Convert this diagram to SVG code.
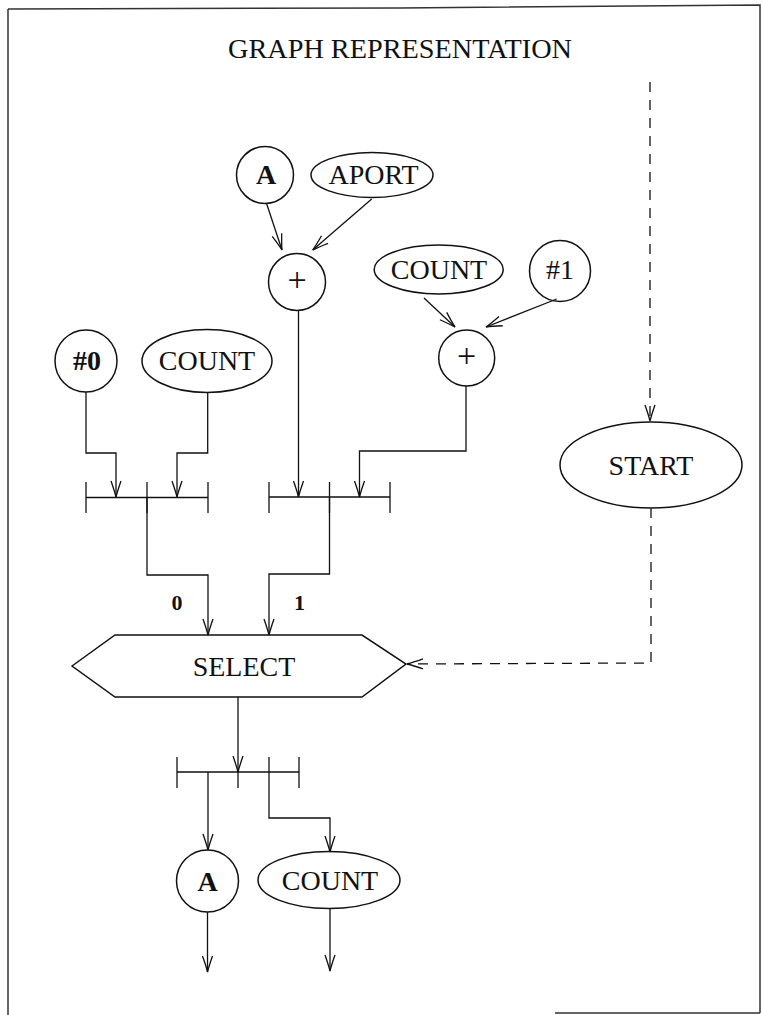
<svg xmlns="http://www.w3.org/2000/svg" width="762" height="1015" viewBox="0 0 762 1015">
<style>
.n{fill:none;stroke:#111;stroke-width:1.5}
.c{fill:none;stroke:#111;stroke-width:1.3}
.d{fill:none;stroke:#111;stroke-width:1.3;stroke-dasharray:10 8}
.b{fill:none;stroke:#111;stroke-width:1.3}
.t{font-family:"Liberation Serif","DejaVu Serif",serif;font-size:28px;fill:#111;text-anchor:middle}
.tb{font-weight:bold}
.p{font-family:"Liberation Serif","DejaVu Serif",serif;font-size:34px;fill:#111;text-anchor:middle}
.s{font-family:"Liberation Serif","DejaVu Serif",serif;font-size:22px;font-weight:bold;fill:#111;text-anchor:middle}
.fr{fill:none;stroke:#333;stroke-width:1.5}
</style>
<defs>
<marker id="ah" markerUnits="userSpaceOnUse" markerWidth="20" markerHeight="14" viewBox="-17 -7 18 14" refX="0" refY="0" orient="auto">
<path d="M-16,-5 Q-6,-1.5 0,0 Q-6,1.5 -16,5" fill="none" stroke="#111" stroke-width="1.3"/>
</marker>
</defs>
<rect width="762" height="1015" fill="#fff"/>
<g id="frame">
<path class="fr" d="M8,9 L400,8 L760,5 L760,1013 M8,9 L8,1015 M555,1013 L760,1013"/>
</g>
<text id="title" class="t" x="400" y="58" textLength="344" lengthAdjust="spacingAndGlyphs">GRAPH REPRESENTATION</text>
<g id="connectors">
<line class="c" x1="266.7" y1="204" x2="282" y2="250" marker-end="url(#ah)"/>
<line class="c" x1="371.7" y1="199" x2="312.7" y2="250" marker-end="url(#ah)"/>
<line class="c" x1="424" y1="298" x2="455" y2="327" marker-end="url(#ah)"/>
<line class="c" x1="556.7" y1="299" x2="486" y2="327" marker-end="url(#ah)"/>
<polyline class="c" points="298.5,310.7 298.5,497" marker-end="url(#ah)"/>
<polyline class="c" points="466,386 466,451 359.5,451 359.5,497" marker-end="url(#ah)"/>
<polyline class="c" points="86,392 86,453 116,453 116,497" marker-end="url(#ah)"/>
<polyline class="c" points="207.7,392 207.7,453 177,453 177,497" marker-end="url(#ah)"/>
<polyline class="c" points="147,497 147,575 208,575 208,635" marker-end="url(#ah)"/>
<polyline class="c" points="329.5,497 329.5,574 269,574 269,635" marker-end="url(#ah)"/>
<polyline class="c" points="238,697 238,772" marker-end="url(#ah)"/>
<polyline class="c" points="208,772 208,850" marker-end="url(#ah)"/>
<polyline class="c" points="269,772 269,818 330,818 330,852" marker-end="url(#ah)"/>
<polyline class="c" points="207.5,912 207.5,972" marker-end="url(#ah)"/>
<polyline class="c" points="330,908 330,971" marker-end="url(#ah)"/>
<polyline class="d" points="650,82 650,421" marker-end="url(#ah)"/>
<polyline class="d" points="651,508 651,663 407,664" marker-end="url(#ah)"/>
<text class="s" x="177" y="610">0</text>
<text class="s" x="299.5" y="610">1</text>
</g>
<g id="nodeA1"><circle class="n" cx="265" cy="175" r="28.5"/><text class="t tb" x="266" y="184">A</text></g>
<g id="nodeAPORT"><ellipse class="n" cx="372" cy="175" rx="61" ry="22.5"/><text class="t" x="373.5" y="184">APORT</text></g>
<g id="nodePlus1"><circle class="n" cx="297" cy="282" r="28.5"/><text class="p" x="297" y="291">+</text></g>
<g id="nodeCOUNT1"><ellipse class="n" cx="438.7" cy="269.5" rx="64.5" ry="24.5"/><text class="t" x="439" y="279">COUNT</text></g>
<g id="nodeHash1"><circle class="n" cx="560" cy="271" r="30.5"/><text class="t" x="560" y="279">#1</text></g>
<g id="nodePlus2"><circle class="n" cx="466.7" cy="358" r="28"/><text class="p" x="466.7" y="367">+</text></g>
<g id="nodeHash0"><circle class="n" cx="86" cy="361" r="31"/><text class="t tb" x="87" y="370">#0</text></g>
<g id="nodeCOUNT0"><ellipse class="n" cx="207" cy="361" rx="65" ry="31.5"/><text class="t" x="207" y="370">COUNT</text></g>
<g id="nodeSTART"><ellipse class="n" cx="651" cy="465" rx="91" ry="43"/><text class="t" x="651" y="475">START</text></g>
<g id="bar1"><path class="b" d="M86,497.5 H208 M86,482 V513 M147,482 V513 M208,482 V513"/></g>
<g id="bar2"><path class="b" d="M269,497 H390 M269,482 V513 M329.5,482 V513 M390,482 V513"/></g>
<g id="nodeSELECT"><polygon class="n" points="72,666 115,635 362,635 406,664 362,697 115,697"/><text class="t" x="244" y="676">SELECT</text></g>
<g id="bar3"><path class="b" d="M177,772 H299 M177,757 V788 M238,772 V788 M269,757 V772 M299,757 V788"/></g>
<g id="nodeA2"><circle class="n" cx="207.5" cy="881" r="31"/><text class="t tb" x="207.5" y="891">A</text></g>
<g id="nodeCOUNT2"><ellipse class="n" cx="329" cy="880" rx="71" ry="28.5"/><text class="t" x="330" y="890">COUNT</text></g>
</svg>
